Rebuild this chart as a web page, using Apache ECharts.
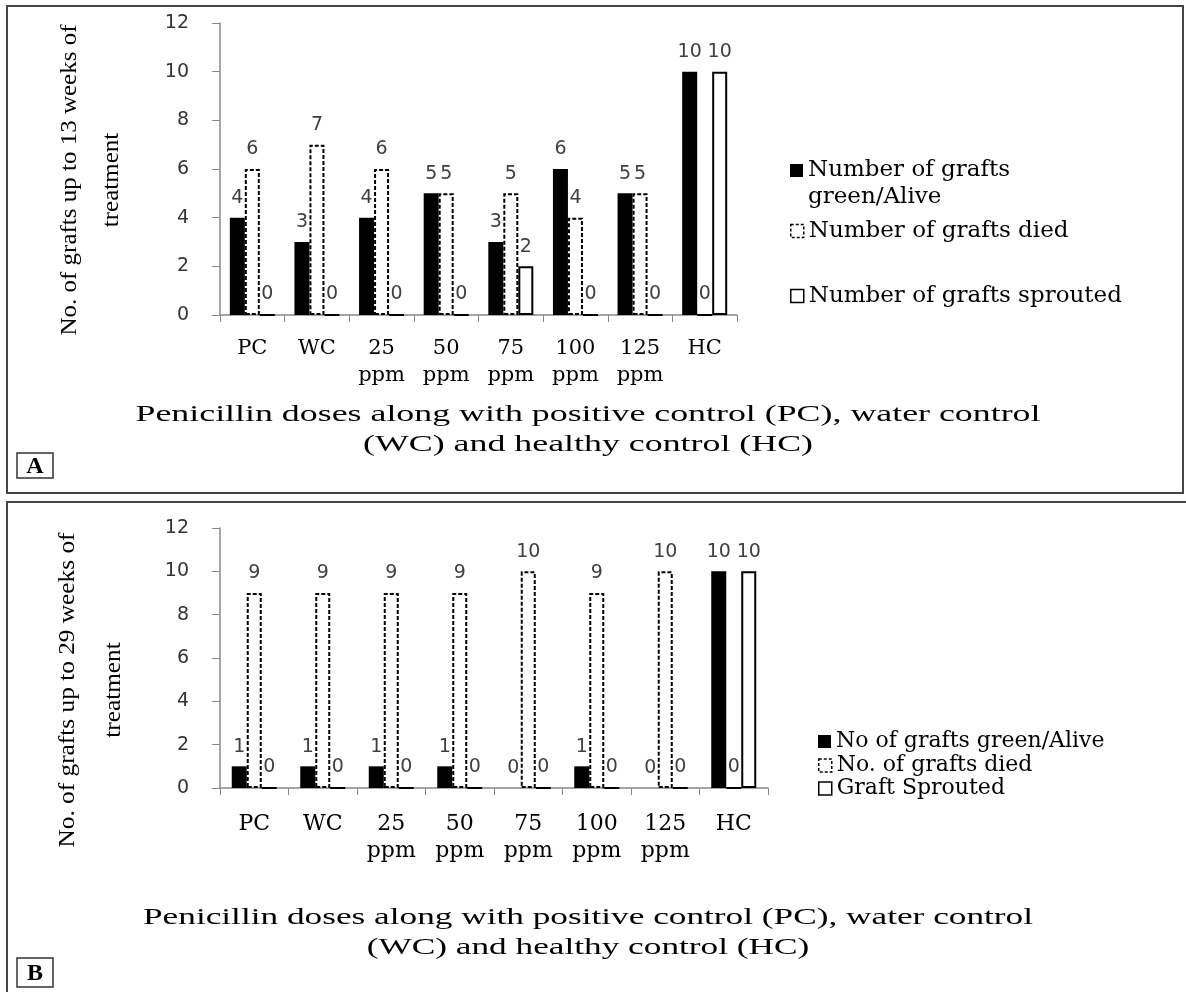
<!DOCTYPE html>
<html>
<head>
    <meta charset="utf-8">
    <title>Penicillin doses - grafts</title>
    <script src="https://cdn.jsdelivr.net/npm/echarts@6/dist/echarts.min.js"></script>
    <style>
        html, body { margin: 0; padding: 0; background: #fff; }
    </style>
</head>
<body>
    <div id="main" style="width:1186px;height:992px;"></div>
    <script type="text/javascript">
        // categories shared by both panels
        var categories = ['PC', 'WC', '25\nppm', '50\nppm', '75\nppm', '100\nppm', '125\nppm', 'HC'];

        // panel A : up to 13 weeks of treatment
        var aliveA = [4, 3, 4, 5, 3, 6, 5, 10];
        var diedA = [6, 7, 6, 5, 5, 4, 5, 0];
        var sproutedA = [0, 0, 0, 0, 2, 0, 0, 10];
        var namesA = ['Number of grafts\ngreen/Alive', 'Number of grafts died', 'Number of grafts sprouted'];

        // panel B : up to 29 weeks of treatment
        var aliveB = [1, 1, 1, 1, 0, 1, 0, 10];
        var diedB = [9, 9, 9, 9, 10, 9, 10, 0];
        var sproutedB = [0, 0, 0, 0, 0, 0, 0, 10];
        var namesB = ['No of grafts green/Alive', 'No. of grafts died', 'Graft Sprouted'];

        var yMax = 12, yStep = 2;
        var yNameA = 'No. of grafts up to 13 weeks of\ntreatment';
        var yNameB = 'No. of grafts up to 29 weeks of\ntreatment';
        var xName = 'Penicillin doses along with positive control (PC), water control\n(WC) and healthy control (HC)';

        var myChart = echarts.init(document.getElementById('main'));

        // the original picture is stretched, so text gets a scaleX fitted to the width seen
        var ctx = document.createElement('canvas').getContext('2d');
        function fit(text, size, target) {
            ctx.font = size + 'px "Liberation Serif"';
            var w = 0;
            text.split('\n').forEach(function (s) { w = Math.max(w, ctx.measureText(s).width); });
            return target / w;
        }

        var solid = { color: '#000' };
        var dashed = { color: '#fff', borderColor: '#000', borderWidth: 2, borderType: [4, 2] };
        var hollow = { color: '#fff', borderColor: '#000', borderWidth: 2 };

        function bar(name, data, style, idx) {
            return {
                type: 'bar',
                name: name,
                data: data,
                xAxisIndex: idx,
                yAxisIndex: idx,
                barWidth: 15,
                barGap: '0%',
                itemStyle: style,
                label: {
                    show: true,
                    position: 'top',
                    distance: 10,
                    color: '#404040',
                    fontFamily: 'DejaVu Sans',
                    fontSize: 19
                }
            };
        }

        function xAxis(idx, margin, size) {
            return {
                type: 'category',
                gridIndex: idx,
                data: categories,
                axisLine: { lineStyle: { color: '#888', width: 1.5 } },
                axisTick: { show: true, length: 7, lineStyle: { color: '#888' } },
                axisLabel: {
                    interval: 0,
                    margin: margin,
                    color: '#000',
                    fontFamily: 'DejaVu Serif',
                    fontSize: size,
                    lineHeight: 27
                }
            };
        }

        function yAxis(idx) {
            return {
                type: 'value',
                gridIndex: idx,
                min: 0,
                max: yMax,
                interval: yStep,
                splitLine: { show: false },
                axisLine: { show: true, lineStyle: { color: '#888', width: 1.5 } },
                axisTick: { show: true, length: 8, lineStyle: { color: '#888' } },
                axisLabel: {
                    margin: 31,
                    color: '#333',
                    fontFamily: 'DejaVu Sans',
                    fontSize: 19
                }
            };
        }

        function legend(name, style, left, top, size, lh, fmt) {
            return {
                data: [{ name: name, icon: 'rect', itemStyle: style }],
                left: left,
                top: top,
                padding: 0,
                itemWidth: 13,
                itemHeight: 13,
                selectedMode: false,
                formatter: fmt || '{name}',
                textStyle: {
                    color: '#000',
                    fontFamily: 'DejaVu Serif',
                    fontSize: size,
                    lineHeight: lh
                }
            };
        }

        // keep the icon level with the first line of a two-line name
        function firstLine(n) { return ' \n' + n; }

        var legendDashed = { color: '#fff', borderColor: '#000', borderWidth: 1.5, borderType: [3, 2] };
        var legendHollow = { color: '#fff', borderColor: '#000', borderWidth: 1.5 };

        function textStyle(text, size, lh) {
            return {
                text: text,
                fill: '#000',
                fontFamily: 'Liberation Serif',
                fontSize: size,
                lineHeight: lh,
                textAlign: 'center',
                textVerticalAlign: 'middle',
                align: 'center',
                verticalAlign: 'middle'
            };
        }

        function rotatedName(text, x, y, lh, len) {
            return {
                type: 'text',
                x: x,
                y: y,
                rotation: Math.PI / 2,
                scaleX: fit(text, 24, len),
                style: textStyle(text, 24, lh)
            };
        }

        function title(y, len) {
            return {
                type: 'text',
                x: 588,
                y: y,
                scaleX: fit(xName, 23, len),
                style: textStyle(xName, 23, 30)
            };
        }

        function tag(letter, y, h) {
            var st = textStyle(letter, 24, 24);
            st.fontWeight = 'bold';
            return [{
                type: 'rect',
                shape: { x: 17, y: y, width: 36, height: h },
                style: { fill: '#fff', stroke: '#333', lineWidth: 1.5 }
            }, {
                type: 'text',
                x: 35,
                y: y + h / 2 + 1,
                style: st
            }];
        }

        var option = {
            animation: false,
            backgroundColor: '#fff',
            grid: [
                { left: 220, top: 23, width: 517, height: 292 },
                { left: 220, top: 528, width: 548, height: 260 }
            ],
            xAxis: [xAxis(0, 20, 21), xAxis(1, 23, 22)],
            yAxis: [yAxis(0), yAxis(1)],
            legend: [
                legend(namesA[0], solid, 790, 130, 23, 27, firstLine),
                legend(namesA[1], legendDashed, 790, 219, 23, 24),
                legend(namesA[2], legendHollow, 790, 284, 23, 24),
                legend(namesB[0], solid, 818, 730, 22, 23),
                legend(namesB[1], legendDashed, 818, 754, 22, 23),
                legend(namesB[2], legendHollow, 818, 777, 22, 23)
            ],
            graphic: [
                {
                    type: 'rect',
                    shape: { x: 7, y: 6, width: 1176, height: 487 },
                    style: { fill: 'none', stroke: '#444', lineWidth: 2 }
                },
                {
                    type: 'rect',
                    shape: { x: 7, y: 502, width: 1200, height: 500 },
                    style: { fill: 'none', stroke: '#444', lineWidth: 2 }
                },
                rotatedName(yNameA, 91, 180, 42, 311),
                rotatedName(yNameB, 91, 690, 46, 315),
                title(430, 905),
                title(933, 890)
            ].concat(tag('A', 453, 25), tag('B', 958, 29)),
            series: [
                bar(namesA[0], aliveA, solid, 0),
                bar(namesA[1], diedA, dashed, 0),
                bar(namesA[2], sproutedA, hollow, 0),
                bar(namesB[0], aliveB, solid, 1),
                bar(namesB[1], diedB, dashed, 1),
                bar(namesB[2], sproutedB, hollow, 1)
            ]
        };

        myChart.setOption(option);
    </script>
</body>
</html>
